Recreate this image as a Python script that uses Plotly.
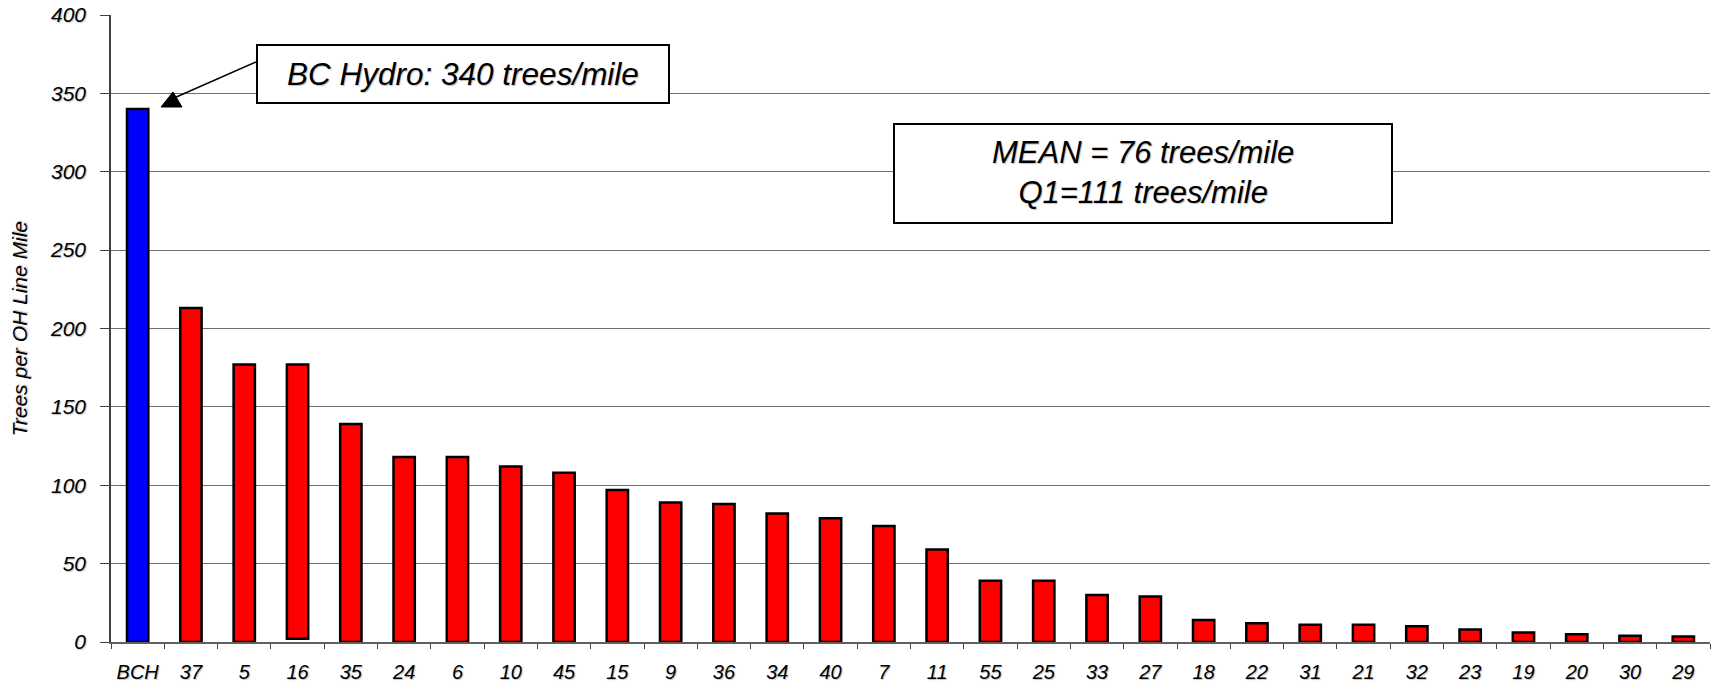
import plotly.graph_objects as go

# ---- data ----
categories = ["BCH", "37", "5", "16", "35", "24", "6", "10", "45", "15",
              "9", "36", "34", "40", "7", "11", "55", "25", "33", "27",
              "18", "22", "31", "21", "32", "23", "19", "20", "30", "29"]
bar_tops = [340, 213, 177, 177, 139, 118, 118, 112, 108, 97,
            89, 88, 82, 79, 74, 59, 39, 39, 30, 29,
            14, 12, 11, 11, 10, 8, 6, 5, 4, 3.5]
bar_bases = [0, 0, 0, 2, 0, 0, 0, 0, 0, 0,
             0, 0, 0, 0, 0, 0, 0, 0, 0, 0,
             0, 0, 0, 0, 0, 0, 0, 0, 0, 0]
highlight = "BCH"
y_ticks = [0, 50, 100, 150, 200, 250, 300, 350, 400]
y_title = "Trees per OH Line Mile"
callout_bch = "BC Hydro: 340 trees/mile"
callout_stats = "MEAN = 76 trees/mile<br>Q1=111 trees/mile"

# ---- layout geometry (pixels) ----
W, H = 1713, 686
L, R, T, B = 111, 3, 15, 44
PW, PH = W - L - R, H - T - B


def px(x):
    return (x - L) / PW


def py(y):
    return (H - B - y) / PH


heights = [t - b for t, b in zip(bar_tops, bar_bases)]
colors = ["#0000FF" if c == highlight else "#FF0000" for c in categories]

FONT = "Liberation Sans, Arial, sans-serif"
SHADOW = "1px 1px 1px rgba(0,0,0,0.25)"

fig = go.Figure()
fig.add_trace(go.Bar(
    x=categories, y=heights, base=bar_bases,
    width=0.40,
    marker=dict(color=colors, line=dict(color="#000000", width=2.5)),
    showlegend=False, hoverinfo="x+y",
))

fig.update_layout(
    width=W, height=H,
    margin=dict(l=L, r=R, t=T, b=B, autoexpand=False),
    paper_bgcolor="white", plot_bgcolor="white",
    font=dict(family=FONT, color="black"),
    xaxis=dict(
        type="category", categoryorder="array", categoryarray=categories,
        tickson="boundaries", ticks="outside", ticklen=5, tickwidth=1.2,
        tickcolor="#404040", tickangle=0,
        showline=True, linecolor="#606060", linewidth=1.5,
        showgrid=False,
        tickfont=dict(family=FONT, size=20, style="italic", color="black",
                      shadow=SHADOW),
        ticklabelstandoff=11,
        range=[-0.5, len(categories) - 0.5],
    ),
    yaxis=dict(
        range=[0, 400], tickvals=y_ticks,
        ticks="outside", ticklen=9, tickwidth=1.2, tickcolor="#404040",
        showline=True, linecolor="#404040", linewidth=1.5,
        showgrid=True, gridcolor="#707070", gridwidth=1.3,
        zeroline=False,
        tickfont=dict(family=FONT, size=21, style="italic", color="black",
                      shadow=SHADOW),
        ticklabelstandoff=10,
    ),
)

# y title as rotated text
fig.add_annotation(
    xref="paper", yref="paper", x=px(19), y=0.5,
    text=y_title, textangle=-90, showarrow=False,
    font=dict(family=FONT, size=21, style="italic", color="black",
              shadow=SHADOW),
    xanchor="center", yanchor="middle",
)

# callout boxes
fig.add_shape(type="rect", xref="paper", yref="paper",
              x0=px(257), x1=px(669), y0=py(103), y1=py(45),
              line=dict(color="black", width=2), fillcolor="white",
              layer="above")
fig.add_shape(type="rect", xref="paper", yref="paper",
              x0=px(894), x1=px(1392), y0=py(223), y1=py(124),
              line=dict(color="black", width=2), fillcolor="white",
              layer="above")

fig.add_annotation(
    xref="paper", yref="paper", x=px(463), y=py(74),
    text=callout_bch, showarrow=False,
    font=dict(family=FONT, size=31.5, style="italic", color="black",
              shadow=SHADOW),
    xanchor="center", yanchor="middle",
)
fig.add_annotation(
    xref="paper", yref="paper", x=px(1143), y=py(173),
    text=callout_stats, showarrow=False,
    font=dict(family=FONT, size=31, style="italic", color="black",
              shadow=SHADOW),
    xanchor="center", yanchor="middle",
)

# pointer line and arrowhead
fig.add_shape(type="line", xref="paper", yref="paper",
              x0=px(256), y0=py(62), x1=px(174), y1=py(98),
              line=dict(color="black", width=1.5), layer="above")
fig.add_shape(type="path", xref="paper", yref="paper",
              path=(f"M {px(161)} {py(107)} L {px(182)} {py(107)} "
                    f"L {px(173)} {py(92)} Z"),
              line=dict(color="black", width=1), fillcolor="black",
              layer="above")

fig.write_html(
    "out.html",
    config={"displayModeBar": False},
    post_script="document.body.style.margin='0';document.body.style.overflow='hidden';",
)
